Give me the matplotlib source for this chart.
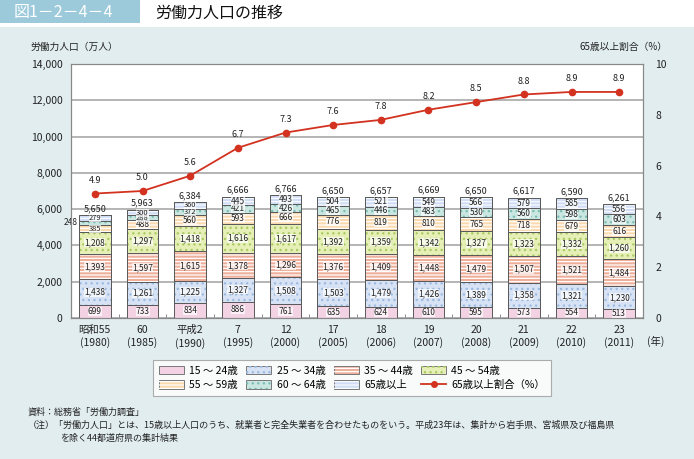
import numpy as np
import matplotlib
matplotlib.use("Agg")
import matplotlib.pyplot as plt
from matplotlib.patches import Patch, Rectangle
from matplotlib.lines import Line2D

plt.rcParams["font.family"] = ["Noto Sans CJK JP", "DejaVu Sans"]
plt.rcParams["hatch.linewidth"] = 0.9

# data (万人)
years = ["昭和55\n(1980)", "60\n(1985)", "平成2\n(1990)", "7\n(1995)", "12\n(2000)",
         "17\n(2005)", "18\n(2006)", "19\n(2007)", "20\n(2008)", "21\n(2009)",
         "22\n(2010)", "23\n(2011)"]
age_15_24 = [699, 733, 834, 886, 761, 635, 624, 610, 595, 573, 554, 513]
age_25_34 = [1438, 1261, 1225, 1327, 1508, 1503, 1479, 1426, 1389, 1358, 1321, 1230]
age_35_44 = [1393, 1597, 1615, 1378, 1296, 1376, 1409, 1448, 1479, 1507, 1521, 1484]
age_45_54 = [1208, 1297, 1418, 1616, 1617, 1392, 1359, 1342, 1327, 1323, 1332, 1260]
age_55_59 = [385, 488, 560, 593, 666, 776, 819, 810, 765, 718, 679, 616]
age_60_64 = [248, 288, 372, 421, 426, 465, 446, 483, 530, 560, 598, 603]
age_65_up = [279, 300, 360, 445, 493, 504, 521, 549, 566, 579, 585, 556]
totals = [5650, 5963, 6384, 6666, 6766, 6650, 6657, 6669, 6650, 6617, 6590, 6261]
ratio_65 = [4.9, 5.0, 5.6, 6.7, 7.3, 7.6, 7.8, 8.2, 8.5, 8.8, 8.9, 8.9]

series = [
    ("15 ～ 24歳", age_15_24, "#f3d3e3", None, None),
    ("25 ～ 34歳", age_25_34, "#d7e3f4", "#9cb9e0", "..."),
    ("35 ～ 44歳", age_35_44, "#edae9a", "#ffffff", "-----"),
    ("45 ～ 54歳", age_45_54, "#e6efb6", "#a9ca62", "..."),
    ("55 ～ 59歳", age_55_59, "#fbd9ae", "#ffffff", "-----"),
    ("60 ～ 64歳", age_60_64, "#c9e6e1", "#7bbdb3", "..."),
    ("65歳以上", age_65_up, "#d0ddf4", "#f8fbff", "-----"),
]

bg = "#e2edf0"
W, H = 694, 459
fig = plt.figure(figsize=(W / 100, H / 100), dpi=100, facecolor=bg)

# header
fig.patches.append(Rectangle((0, 1 - 27 / H), 1, 27 / H, transform=fig.transFigure,
                             fc="white", ec="none", zorder=0))
hax = fig.add_axes([140 / W, 1 - 13 / H, 550 / W, 13 / H])
grad = np.linspace(0, 1, 50).reshape(-1, 1)
top = np.array([0.55, 0.77, 0.85])
img = top[None, None, :] * (1 - grad[:, :, None]) + np.ones(3)[None, None, :] * grad[:, :, None]
hax.imshow(img, aspect="auto", extent=[0, 1, 0, 1])
hax.axis("off")
fig.patches.append(Rectangle((0, 1 - 23 / H), 140 / W, 23 / H, transform=fig.transFigure,
                             fc="#9ccadb", ec="none", zorder=1))
fig.text(14 / W, 1 - 12 / H, "図1－2－4－4", color="white", fontsize=11.5, va="center")
fig.text(155 / W, 1 - 13 / H, "労働力人口の推移", color="#111111", fontsize=11.5, va="center")

ax = fig.add_axes([71 / W, 1 - 318 / H, 572 / W, 254 / H])
ax.set_facecolor("white")
x = np.arange(len(years))
width = 0.66
bottom = np.zeros(len(years))
for name, vals, fc, hc, hatch in series:
    vals = np.array(vals)
    ax.bar(x, vals, width, bottom=bottom, color=fc, edgecolor="#5a5a5a", linewidth=0.7, zorder=2)
    if hatch:
        ax.bar(x, vals, width, bottom=bottom, fill=False, edgecolor=hc, hatch=hatch,
               linewidth=0, zorder=3)
        ax.bar(x, vals, width, bottom=bottom, fill=False, edgecolor="#5a5a5a",
               linewidth=0.7, zorder=3)
    for i, v in enumerate(vals):
        yc = bottom[i] + v / 2
        fs = 5.4 if v < 400 else 6
        if i == 0 and name == "60 ～ 64歳":
            ax.text(x[i] - width / 2 - 0.02, yc, f"{v:,}", ha="right", va="center",
                    fontsize=6, color="#222222", zorder=5)
            continue
        ax.text(x[i], yc, f"{v:,}", ha="center", va="center", fontsize=fs, color="#222222",
                zorder=5, bbox=dict(boxstyle="square,pad=0.0", fc="white", ec="none", alpha=0.7))
    bottom += vals

for i, t in enumerate(totals):
    ax.text(x[i], t + 130, f"{t:,}", ha="center", va="bottom", fontsize=6.5, color="#222222", zorder=5)

ax.set_xlim(-0.5, len(years) - 0.5)
ax.set_ylim(0, 14000)
ax.set_yticks(np.arange(0, 14001, 2000))
ax.set_yticklabels([f"{v:,}" for v in range(0, 14001, 2000)], fontsize=7.5, color="#222222")
ax.yaxis.grid(True, color="#a8a8a8", linewidth=1.2, zorder=0)
ax.set_axisbelow(True)
ax.set_xticks(x)
ax.set_xticklabels(years, fontsize=7.5, color="#222222", linespacing=1.3)
ax.set_xticks(np.arange(0.5, len(years) - 1, 1), minor=True)
ax.tick_params(axis="x", which="major", length=0, pad=5)
ax.tick_params(axis="x", which="minor", direction="in", length=3, color="#777777")
ax.tick_params(axis="y", length=0, pad=6)
for s in ax.spines.values():
    s.set_color("#888888")
    s.set_linewidth(0.8)

ax2 = ax.twinx()
ax2.set_ylim(0, 10)
ax2.set_yticks(np.arange(0, 11, 2))
ax2.set_yticklabels([str(v) for v in range(0, 11, 2)], fontsize=7.5, color="#222222")
ax2.tick_params(axis="y", length=0, pad=9)
for s in ax2.spines.values():
    s.set_color("#888888")
    s.set_linewidth(0.8)
ax2.plot(x, ratio_65, color="#d2321f", linewidth=1.3, marker="o", markersize=4.5, zorder=6)
for i, r in enumerate(ratio_65):
    ax2.text(x[i], r + 0.35, f"{r:.1f}", ha="center", va="bottom", fontsize=6.5, color="#222222")

fig.text(31 / W, 1 - 47 / H, "労働力人口（万人）", fontsize=7, va="center", color="#222222")
fig.text(667 / W, 1 - 47 / H, "65歳以上割合（%）", fontsize=7, va="center", ha="right", color="#222222")
fig.text(647 / W, 1 - 341 / H, "(年)", fontsize=7.5, va="center", color="#222222")

# legend (column-major order)
handles = {}
for name, vals, fc, hc, hatch in series:
    base = Patch(fc=fc, ec="#777777", lw=0.7)
    if hatch:
        handles[name] = (base, Patch(fill=False, ec=hc, hatch=hatch, lw=0))
    else:
        handles[name] = base
line_h = Line2D([], [], color="#d2321f", lw=1.3, marker="o", markersize=4)
names = [s[0] for s in series]
order = [names[0], names[4], names[1], names[5], names[2], names[6], names[3]]
hl = [handles[n] for n in order] + [line_h]
ll = order + ["65歳以上割合（%）"]
leg = fig.legend(hl, ll, ncol=4, loc="center", bbox_to_anchor=(352 / W, 1 - 378 / H),
                 fontsize=7.5, frameon=True, fancybox=False, edgecolor="#999999",
                 handlelength=2.4, handleheight=0.9, columnspacing=0.8, labelspacing=0.45,
                 borderpad=0.55, handletextpad=0.5)
leg.get_frame().set_linewidth(0.8)

fig.text(28 / W, 1 - 412 / H, "資料：総務省「労働力調査」", fontsize=6.5, va="center", color="#222222")
fig.text(28 / W, 1 - 425 / H,
         "（注）「労働力人口」とは、15歳以上人口のうち、就業者と完全失業者を合わせたものをいう。平成23年は、集計から岩手県、宮城県及び福島県",
         fontsize=6.5, va="center", color="#222222")
fig.text(60 / W, 1 - 438 / H, "を除く44都道府県の集計結果", fontsize=6.5, va="center", color="#222222")

fig.savefig("out.png", dpi=100, facecolor=fig.get_facecolor())
